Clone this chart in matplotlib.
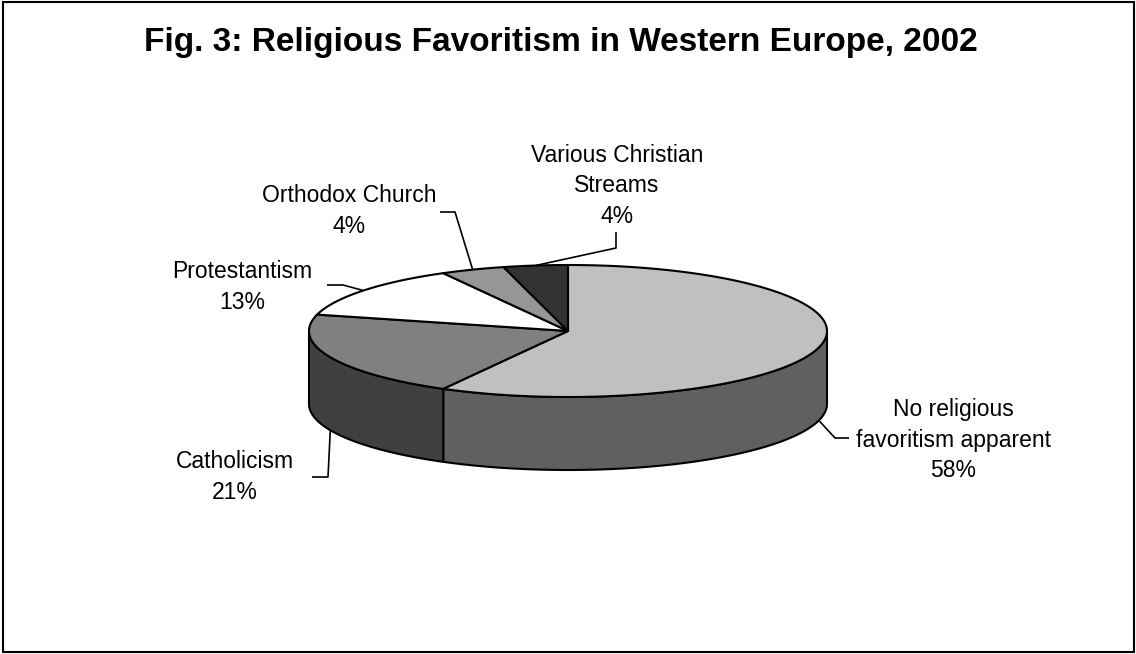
import numpy as np
import matplotlib
matplotlib.use("Agg")
import matplotlib.pyplot as plt
from matplotlib.patches import Polygon, Rectangle

# ---- data ----
categories = ["No religious\nfavoritism apparent", "Catholicism", "Protestantism",
              "Orthodox Church", "Various Christian\nStreams"]
values = [58, 21, 13, 4, 4]
top_colors = ["#C0C0C0", "#808080", "#FFFFFF", "#969696", "#333333"]
side_colors = ["#606060", "#404040", "#B0B0B0", "#5A5A5A", "#202020"]
title = "Fig. 3: Religious Favoritism in Western Europe, 2002"

# ---- layout (pixels) ----
W, H = 1136, 654
cx, cy, a, b, depth = 568, 331, 259, 66, 73
# label centre, elbow and end of leader (layout only)
label_pos = [(953, 440), (235, 477), (242, 287), (349, 211), (617, 186)]
elbows = [[(835, 438), (849, 438)], [(328, 477), (312, 477)], [(343, 285), (327, 285)],
          [(455, 212), (440, 212)], [(616, 248), (616, 232)]]

fig = plt.figure(figsize=(W / 100, H / 100), dpi=100)
ax = fig.add_axes([0, 0, 1, 1])
ax.set_xlim(0, W)
ax.set_ylim(H, 0)
ax.axis("off")

def pt(theta_deg, dz=0.0):
    t = np.radians(theta_deg)
    return cx + a * np.cos(t), cy - b * np.sin(t) + dz

fracs = np.array(values, dtype=float) / sum(values)
starts = 90 - 360 * np.concatenate([[0], np.cumsum(fracs)[:-1]])
ends = starts - 360 * fracs

LW = 1.5
# ---- side walls (front half: angles in [-180, 0] mod 360) ----
for i in range(len(values)):
    s, e = starts[i], ends[i]
    for k in (0, -360, 360):
        lo = max(e, -180 + k)
        hi = min(s, 0 + k)
        if hi > lo:
            th = np.linspace(hi, lo, 120)
            top = [pt(t) for t in th]
            bot = [pt(t, depth) for t in th[::-1]]
            ax.add_patch(Polygon(top + bot, closed=True, facecolor=side_colors[i],
                                 edgecolor="black", lw=LW, joinstyle="round", zorder=2))

# ---- top wedges ----
for i in range(len(values)):
    th = np.linspace(starts[i], ends[i], 200)
    poly = [(cx, cy)] + [pt(t) for t in th]
    ax.add_patch(Polygon(poly, closed=True, facecolor=top_colors[i],
                         edgecolor="black", lw=LW, joinstyle="round", zorder=3))

# ---- labels with leader lines ----
font = "Liberation Sans"
for i in range(len(values)):
    mid = (starts[i] + ends[i]) / 2
    front = np.sin(np.radians(mid)) < 0
    ax_, ay_ = pt(mid, depth if front else 0)
    xs = [ax_] + [p[0] for p in elbows[i]]
    ys = [ay_] + [p[1] for p in elbows[i]]
    ax.plot(xs, ys, color="black", lw=1.2, zorder=4, solid_capstyle="butt")
    ax.text(label_pos[i][0], label_pos[i][1], f"{categories[i]}\n{values[i]}%",
            ha="center", va="center", multialignment="center", fontsize=16.5,
            family=font, linespacing=1.4, zorder=5)

ax.text(561, 43, title, ha="center", va="center", fontsize=24, fontweight="bold",
        family=font)

ax.add_patch(Rectangle((3, 2), 1131, 650, fill=False, edgecolor="black", lw=1.5, zorder=6))

fig.savefig("out.png", dpi=100)
